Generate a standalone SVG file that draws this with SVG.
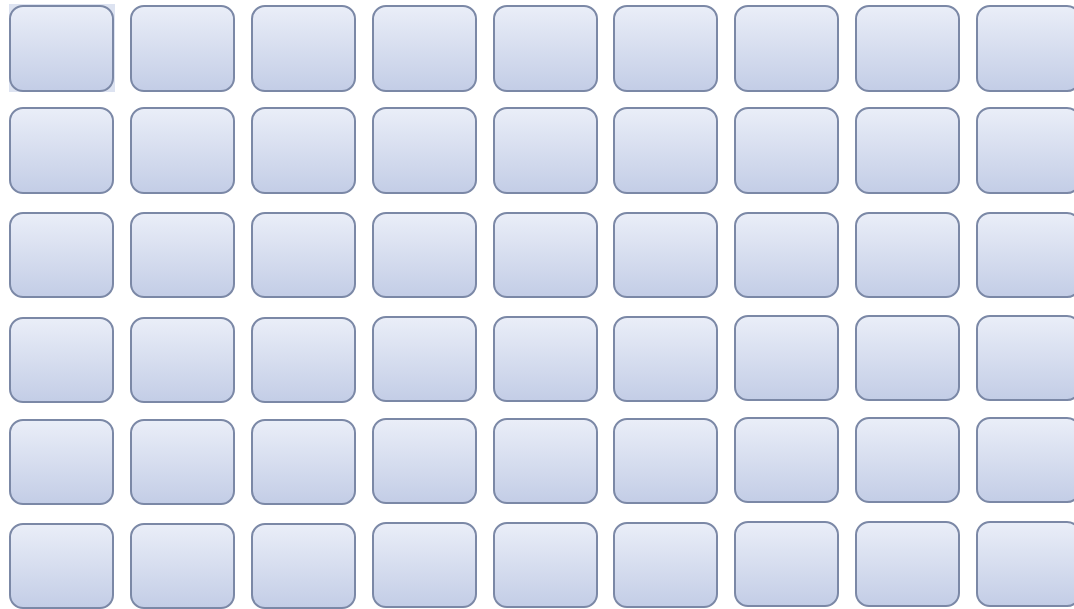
<svg xmlns="http://www.w3.org/2000/svg" width="1074" height="609" viewBox="0 0 1074 609">
<defs>
<linearGradient id="g" x1="0" y1="0" x2="0" y2="1">
<stop offset="0" stop-color="#eaeef8"/>
<stop offset="1" stop-color="#c3cde6"/>
</linearGradient>
<style>
.n{fill:url(#g);stroke:#7b88a6;stroke-width:2}
</style>
</defs>
<rect x="0" y="0" width="1074" height="609" fill="#ffffff"/>
<rect x="9" y="4" width="106" height="88" fill="#dde3f1"/>
<g id="connectors"></g>
<g id="r1">
<g id="n1-1"><rect class="n" x="10" y="6" width="103" height="85" rx="13"/></g>
<g id="n1-2"><rect class="n" x="131" y="6" width="103" height="85" rx="13"/></g>
<g id="n1-3"><rect class="n" x="252" y="6" width="103" height="85" rx="13"/></g>
<g id="n1-4"><rect class="n" x="373" y="6" width="103" height="85" rx="13"/></g>
<g id="n1-5"><rect class="n" x="494" y="6" width="103" height="85" rx="13"/></g>
<g id="n1-6"><rect class="n" x="614" y="6" width="103" height="85" rx="13"/></g>
<g id="n1-7"><rect class="n" x="735" y="6" width="103" height="85" rx="13"/></g>
<g id="n1-8"><rect class="n" x="856" y="6" width="103" height="85" rx="13"/></g>
<g id="n1-9"><rect class="n" x="977" y="6" width="103" height="85" rx="13"/></g>
</g>
<g id="r2">
<g id="n2-1"><rect class="n" x="10" y="108" width="103" height="85" rx="13"/></g>
<g id="n2-2"><rect class="n" x="131" y="108" width="103" height="85" rx="13"/></g>
<g id="n2-3"><rect class="n" x="252" y="108" width="103" height="85" rx="13"/></g>
<g id="n2-4"><rect class="n" x="373" y="108" width="103" height="85" rx="13"/></g>
<g id="n2-5"><rect class="n" x="494" y="108" width="103" height="85" rx="13"/></g>
<g id="n2-6"><rect class="n" x="614" y="108" width="103" height="85" rx="13"/></g>
<g id="n2-7"><rect class="n" x="735" y="108" width="103" height="85" rx="13"/></g>
<g id="n2-8"><rect class="n" x="856" y="108" width="103" height="85" rx="13"/></g>
<g id="n2-9"><rect class="n" x="977" y="108" width="103" height="85" rx="13"/></g>
</g>
<g id="r3">
<g id="n3-1"><rect class="n" x="10" y="213" width="103" height="84" rx="13"/></g>
<g id="n3-2"><rect class="n" x="131" y="213" width="103" height="84" rx="13"/></g>
<g id="n3-3"><rect class="n" x="252" y="213" width="103" height="84" rx="13"/></g>
<g id="n3-4"><rect class="n" x="373" y="213" width="103" height="84" rx="13"/></g>
<g id="n3-5"><rect class="n" x="494" y="213" width="103" height="84" rx="13"/></g>
<g id="n3-6"><rect class="n" x="614" y="213" width="103" height="84" rx="13"/></g>
<g id="n3-7"><rect class="n" x="735" y="213" width="103" height="84" rx="13"/></g>
<g id="n3-8"><rect class="n" x="856" y="213" width="103" height="84" rx="13"/></g>
<g id="n3-9"><rect class="n" x="977" y="213" width="103" height="84" rx="13"/></g>
</g>
<g id="r4">
<g id="n4-1"><rect class="n" x="10" y="318" width="103" height="84" rx="13"/></g>
<g id="n4-2"><rect class="n" x="131" y="318" width="103" height="84" rx="13"/></g>
<g id="n4-3"><rect class="n" x="252" y="318" width="103" height="84" rx="13"/></g>
<g id="n4-4"><rect class="n" x="373" y="317" width="103" height="84" rx="13"/></g>
<g id="n4-5"><rect class="n" x="494" y="317" width="103" height="84" rx="13"/></g>
<g id="n4-6"><rect class="n" x="614" y="317" width="103" height="84" rx="13"/></g>
<g id="n4-7"><rect class="n" x="735" y="316" width="103" height="84" rx="13"/></g>
<g id="n4-8"><rect class="n" x="856" y="316" width="103" height="84" rx="13"/></g>
<g id="n4-9"><rect class="n" x="977" y="316" width="103" height="84" rx="13"/></g>
</g>
<g id="r5">
<g id="n5-1"><rect class="n" x="10" y="420" width="103" height="84" rx="13"/></g>
<g id="n5-2"><rect class="n" x="131" y="420" width="103" height="84" rx="13"/></g>
<g id="n5-3"><rect class="n" x="252" y="420" width="103" height="84" rx="13"/></g>
<g id="n5-4"><rect class="n" x="373" y="419" width="103" height="84" rx="13"/></g>
<g id="n5-5"><rect class="n" x="494" y="419" width="103" height="84" rx="13"/></g>
<g id="n5-6"><rect class="n" x="614" y="419" width="103" height="84" rx="13"/></g>
<g id="n5-7"><rect class="n" x="735" y="418" width="103" height="84" rx="13"/></g>
<g id="n5-8"><rect class="n" x="856" y="418" width="103" height="84" rx="13"/></g>
<g id="n5-9"><rect class="n" x="977" y="418" width="103" height="84" rx="13"/></g>
</g>
<g id="r6">
<g id="n6-1"><rect class="n" x="10" y="524" width="103" height="84" rx="13"/></g>
<g id="n6-2"><rect class="n" x="131" y="524" width="103" height="84" rx="13"/></g>
<g id="n6-3"><rect class="n" x="252" y="524" width="103" height="84" rx="13"/></g>
<g id="n6-4"><rect class="n" x="373" y="523" width="103" height="84" rx="13"/></g>
<g id="n6-5"><rect class="n" x="494" y="523" width="103" height="84" rx="13"/></g>
<g id="n6-6"><rect class="n" x="614" y="523" width="103" height="84" rx="13"/></g>
<g id="n6-7"><rect class="n" x="735" y="522" width="103" height="84" rx="13"/></g>
<g id="n6-8"><rect class="n" x="856" y="522" width="103" height="84" rx="13"/></g>
<g id="n6-9"><rect class="n" x="977" y="522" width="103" height="84" rx="13"/></g>
</g>
</svg>
